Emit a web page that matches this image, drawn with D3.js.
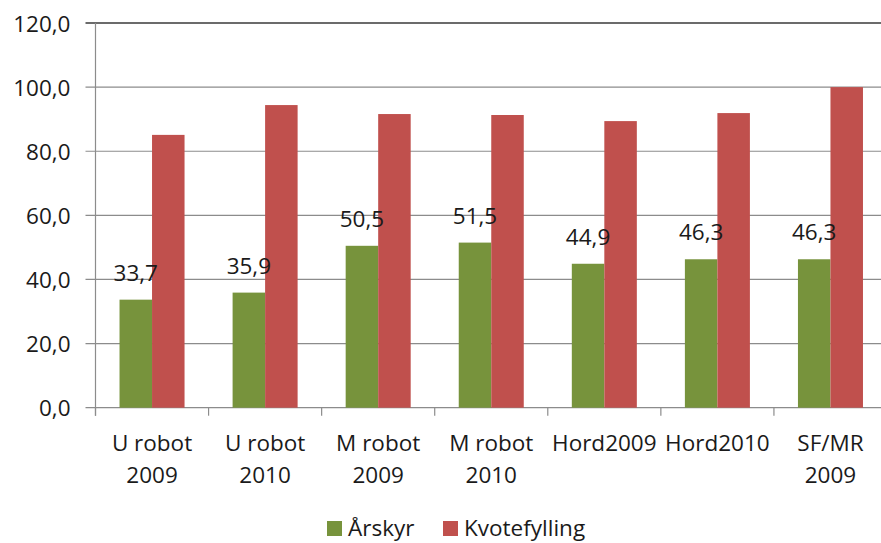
<!DOCTYPE html>
<html>
<head>
<meta charset="utf-8">
<script src="https://cdn.jsdelivr.net/npm/d3@7"></script>
<style>
  body { margin: 0; background: #fff; }
  svg { display: block; font-family: "Open Sans", "Liberation Sans", sans-serif; }
</style>
</head>
<body>
<svg></svg>
<script>
// Data
let categories = [['U robot', '2009'], ['U robot', '2010'], ['M robot', '2009'], ['M robot', '2010'], ['Hord2009'], ['Hord2010'], ['SF/MR', '2009']];
let arskyr = [33.7, 35.9, 50.5, 51.5, 44.9, 46.3, 46.3];
let kvotefylling = [85.1, 94.4, 91.6, 91.3, 89.4, 91.9, 100.0];
let seriesNames = ['Årskyr', 'Kvotefylling'];
let seriesColors = ['#77933C', '#C0504D'];
let yTicks = [0, 20, 40, 60, 80, 100, 120];

// SVG dimensions
let width = 881, height = 543;
let plotLeft = 95.5, plotRight = 887, plotTop = 23, plotBottom = 407.7;
let fontSize = '22.5px', textColor = '#1a1a1a';

let svg = d3.select('svg').attr('width', width).attr('height', height);

let fmt = (v) => d3.format('.1f')(v).replace('.', ',');

let xScale = d3.scaleBand()
    .domain(d3.range(categories.length))
    .range([plotLeft, plotRight])
    .padding(0);

let yScale = d3.scaleLinear()
    .domain([0, 120])
    .range([plotBottom, plotTop]);

let barW = xScale.bandwidth() * 0.2875;

// Gridlines
svg.append('g')
    .selectAll('line')
    .data(yTicks)
    .enter()
    .append('line')
    .attr('x1', plotLeft - 10)
    .attr('x2', plotRight)
    .attr('y1', (d) => yScale(d))
    .attr('y2', (d) => yScale(d))
    .attr('stroke', (d) => d === 120 ? '#3a3a3a' : '#8c8c8c')
    .attr('stroke-width', (d) => d === 120 ? 1.6 : 1.2);

// Y axis
let yAxis = d3.axisLeft(yScale).tickValues(yTicks).tickFormat(fmt).tickSize(0).tickPadding(25);
let yg = svg.append('g')
    .attr('transform', `translate(${plotLeft}, 0)`)
    .call(yAxis);
yg.select('.domain').remove();
yg.selectAll('text')
    .style('font-size', fontSize)
    .style('font-family', '"Open Sans", sans-serif')
    .attr('fill', textColor)
    .attr('dy', '0.36em');

svg.append('line')
    .attr('x1', plotLeft).attr('x2', plotLeft)
    .attr('y1', plotTop).attr('y2', plotBottom + 8)
    .attr('stroke', '#8c8c8c')
    .attr('stroke-width', 1.2);

// X axis ticks
svg.append('g')
    .selectAll('line')
    .data(d3.range(categories.length))
    .enter()
    .append('line')
    .attr('x1', (d) => xScale(d))
    .attr('x2', (d) => xScale(d))
    .attr('y1', plotBottom)
    .attr('y2', plotBottom + 8)
    .attr('stroke', '#8c8c8c')
    .attr('stroke-width', 1.2);

// Bars
[arskyr, kvotefylling].forEach((values, s) => {
    svg.append('g')
        .selectAll('rect')
        .data(values)
        .enter()
        .append('rect')
        .attr('x', (d, i) => xScale(i) + xScale.bandwidth() / 2 - barW + s * barW)
        .attr('y', (d) => yScale(d))
        .attr('width', barW)
        .attr('height', (d) => yScale(0) - yScale(d))
        .attr('fill', seriesColors[s]);
});

// Data labels for Årskyr
svg.append('g')
    .selectAll('text')
    .data(arskyr)
    .enter()
    .append('text')
    .attr('x', (d, i) => xScale(i) + xScale.bandwidth() / 2 - barW / 2)
    .attr('y', (d) => yScale(d) - 19)
    .attr('text-anchor', 'middle')
    .style('font-size', fontSize)
    .attr('fill', textColor)
    .text((d) => fmt(d));

// Category labels
let catLabels = svg.append('g')
    .selectAll('text')
    .data(categories)
    .enter()
    .append('text')
    .attr('x', (d, i) => xScale(i) + xScale.bandwidth() / 2)
    .attr('y', 451)
    .attr('text-anchor', 'middle')
    .style('font-size', fontSize)
    .attr('fill', textColor);

catLabels.selectAll('tspan')
    .data((d) => d)
    .enter()
    .append('tspan')
    .attr('x', function () { return d3.select(this.parentNode).attr('x'); })
    .attr('dy', (d, i) => i === 0 ? 0 : 32)
    .text((d) => d);

// Legend
let legendX = [327, 443];
let legend = svg.append('g')
    .selectAll('g')
    .data(seriesNames)
    .enter()
    .append('g')
    .attr('transform', (d, i) => `translate(${legendX[i]}, 521)`);

legend.append('rect')
    .attr('width', 15)
    .attr('height', 15)
    .attr('fill', (d, i) => seriesColors[i]);

legend.append('text')
    .attr('x', 21)
    .attr('y', 15)
    .style('font-size', fontSize)
    .attr('fill', textColor)
    .text((d) => d);
</script>
</body>
</html>
